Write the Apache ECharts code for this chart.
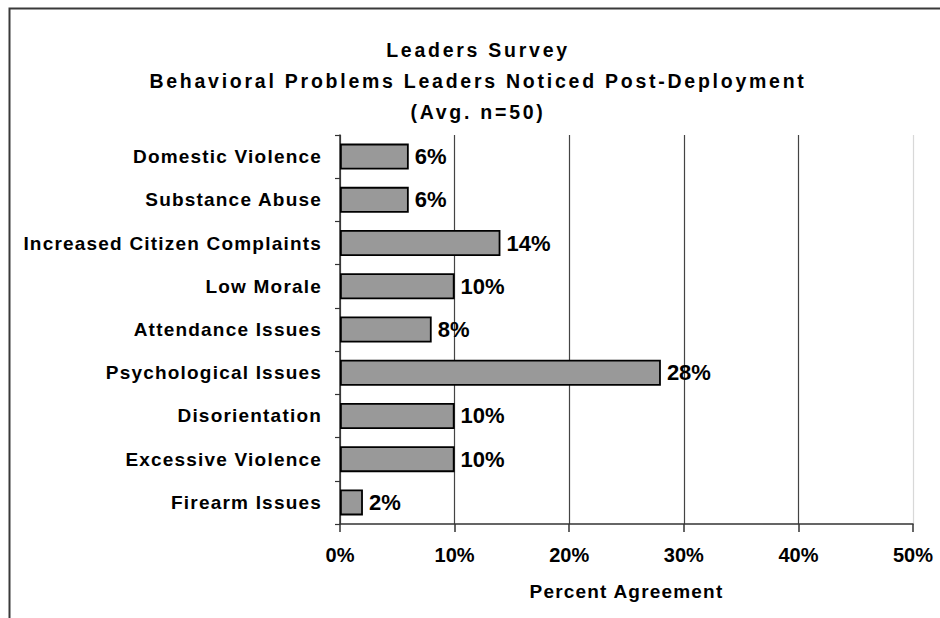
<!DOCTYPE html>
<html>
<head>
<meta charset="utf-8">
<script src="https://cdn.jsdelivr.net/npm/echarts@6/dist/echarts.min.js"></script>
<style>
  html, body { margin: 0; padding: 0; background: #fff; }
  #chart { width: 940px; height: 618px; }
  /* wide tracking of the heading and axis texts */
  #chart text[style*="19.5px"] { letter-spacing: 2.75px; }
  #chart text[style*="19px"] { letter-spacing: 1.2px; }
</style>
</head>
<body>
<div id="chart"></div>
<script>
// Survey categories, top to bottom
const categories = [
  'Domestic Violence',
  'Substance Abuse',
  'Increased Citizen Complaints',
  'Low Morale',
  'Attendance Issues',
  'Psychological Issues',
  'Disorientation',
  'Excessive Violence',
  'Firearm Issues'
];
// Percent agreement per category
const values = [6, 6, 14, 10, 8, 28, 10, 10, 2];
// Heading lines
const titleLines = [
  'Leaders Survey',
  'Behavioral Problems Leaders Noticed Post-Deployment',
  '(Avg. n=50)'
];
const titleCenters = [50, 81, 112];
const axisName = 'Percent Agreement';

const FONT = '"Liberation Sans", Arial, Helvetica, sans-serif';

const chart = echarts.init(document.getElementById('chart'), null, { renderer: 'svg' });

chart.setOption({
  animation: false,
  backgroundColor: '#fff',
  title: titleLines.map((t, i) => ({
    text: t,
    left: 478,
    top: titleCenters[i] - 12,
    padding: 0,
    textAlign: 'center',
    textStyle: {
      fontFamily: FONT, fontSize: 19.5, fontWeight: 'bold', color: '#000',
      lineHeight: 24
    }
  })),
  graphic: [{
    type: 'rect',
    shape: { x: 9.5, y: 8.5, width: 1000, height: 1000 },
    style: { fill: 'none', stroke: '#3a3a3a', lineWidth: 2 },
    silent: true
  }],
  grid: { left: 340, right: 27, top: 135, bottom: 94, containLabel: false },
  xAxis: {
    type: 'value',
    min: 0, max: 50, interval: 10,
    name: axisName,
    nameLocation: 'middle',
    nameGap: 58,
    nameTextStyle: { fontFamily: FONT, fontSize: 19, fontWeight: 'bold', color: '#000' },
    axisLine: { show: true, lineStyle: { color: '#333', width: 1.5 } },
    axisTick: { show: true, length: 8, lineStyle: { color: '#333', width: 1.5 } },
    axisLabel: {
      formatter: '{value}%', margin: 21,
      fontFamily: FONT, fontSize: 20, fontWeight: 'bold', color: '#000'
    },
    splitLine: {
      show: true,
      lineStyle: { color: ['#444', '#444', '#444', '#444', '#444', '#d8d8d8'], width: 1.2 }
    }
  },
  yAxis: {
    type: 'category',
    data: categories,
    inverse: true,
    axisLine: { show: true, lineStyle: { color: '#333', width: 1.5 } },
    axisTick: { show: true, length: 5, alignWithLabel: false, lineStyle: { color: '#333', width: 1.2 } },
    axisLabel: {
      margin: 18,
      fontFamily: FONT, fontSize: 19, fontWeight: 'bold', color: '#000'
    },
    splitLine: { show: false }
  },
  series: [{
    type: 'bar',
    data: values,
    barWidth: 26,
    itemStyle: { color: '#999999', borderColor: '#000', borderWidth: 1.8 },
    label: {
      show: true, position: 'right', distance: 6,
      formatter: '{c}%',
      fontFamily: FONT, fontSize: 22, fontWeight: 'bold', color: '#000'
    }
  }]
});
</script>
</body>
</html>
